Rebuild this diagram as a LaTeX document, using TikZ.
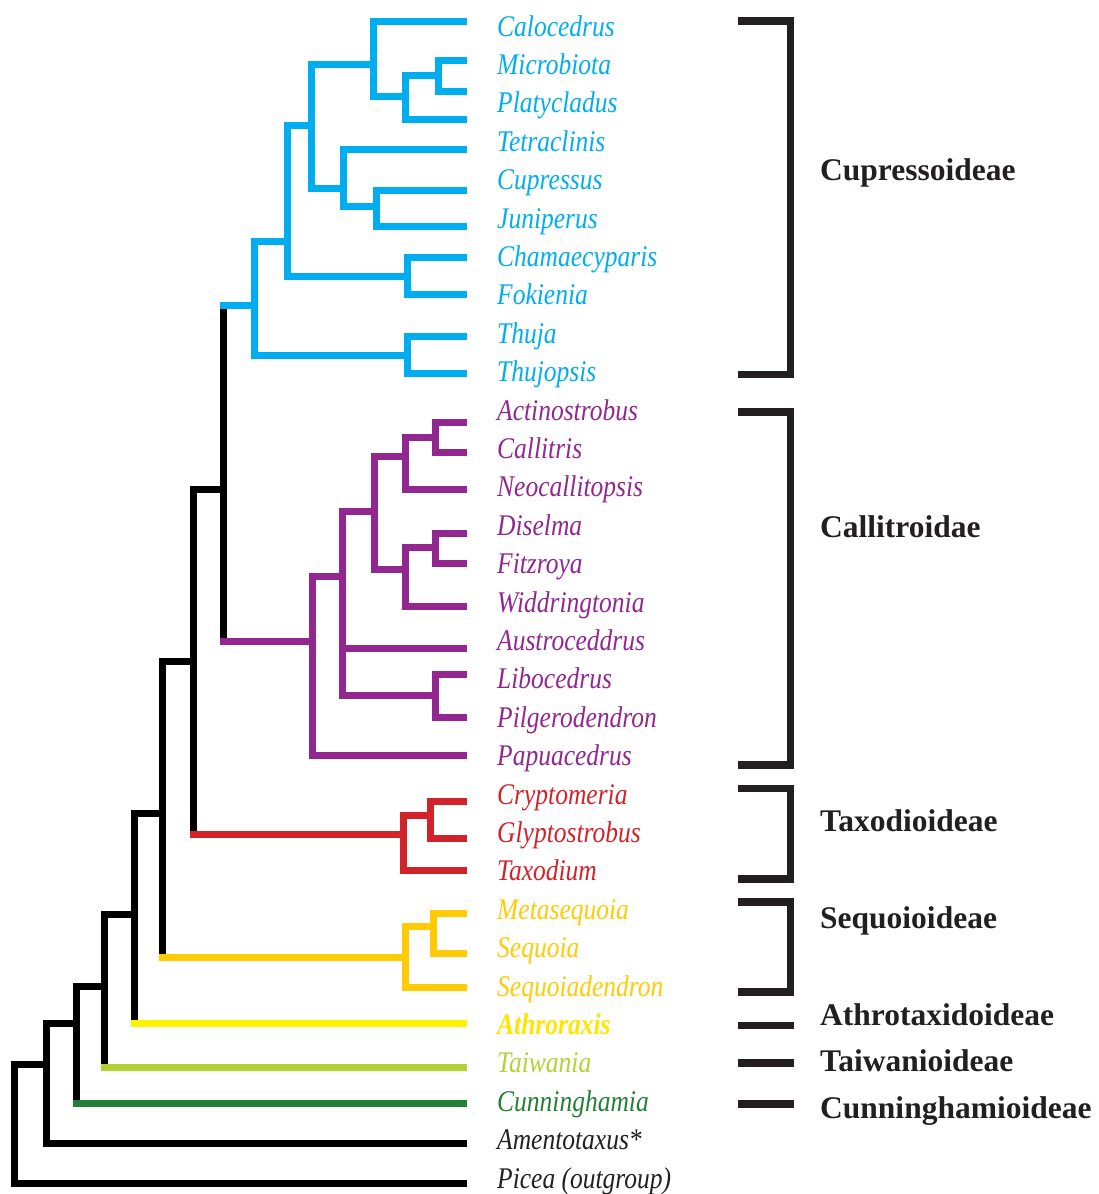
\documentclass[tikz,border=0pt]{standalone}
\usepackage{fontspec}
\setmainfont{Liberation Serif}
\usepackage{graphicx}
\usetikzlibrary{calc}
\definecolor{cblue}{HTML}{00AEEF}
\definecolor{cpurple}{HTML}{92278F}
\definecolor{cred}{HTML}{D2232A}
\definecolor{corange}{HTML}{FFCB05}
\definecolor{cyellow}{HTML}{FFF200}
\definecolor{cyellowtxt}{HTML}{FFE500}
\definecolor{clgreen}{HTML}{B2D235}
\definecolor{cdgreen}{HTML}{237F36}
\definecolor{cdark}{HTML}{231F20}
\newcommand\lf[1]{\scalebox{0.85}[1]{\itshape #1}}
\newcommand\spine[4]{\draw[branch,#1] (#2 |- #3) -- (#2 |- #4);}
\newcommand\stem[3]{\draw[branch,#1] ($(#2 |- #3)+(-3.5,0)$) -- (#3);}
\newcommand\bracketpath[3]{\draw[bracket] (738.3,#2) -- (790.3,#2) -- (790.3,#3) -- (738.3,#3);}
\begin{document}
\begin{tikzpicture}[x=1pt,y=-1pt,
  branch/.style={line width=7pt, line cap=butt, line join=miter},
  leaflabel/.style={anchor=base west, inner sep=0pt, font=\fontsize{30}{30}\selectfont},
  grouplabel/.style={anchor=base west, inner sep=0pt, font=\fontsize{31.5}{32}\selectfont\bfseries, text=cdark},
  bracket/.style={line width=7.5pt, draw=cdark, line cap=butt, line join=miter}]
\useasboundingbox (0,0) rectangle (1098,1194);

% ---- leaf end points
\coordinate (b1) at (466.7,21.2);
\coordinate (b2) at (466.7,60.3);
\coordinate (b3) at (466.7,91.2);
\coordinate (b4) at (466.7,119.2);
\coordinate (b5) at (466.7,149);
\coordinate (b6) at (466.7,190.8);
\coordinate (b7) at (466.7,226.8);
\coordinate (b8) at (466.7,257.5);
\coordinate (b9) at (466.7,294.3);
\coordinate (b10) at (466.7,336.8);
\coordinate (b11) at (466.7,373.3);
\coordinate (p1) at (466.7,422.2);
\coordinate (p2) at (466.7,452.5);
\coordinate (p3) at (466.7,489.7);
\coordinate (p4) at (466.7,533);
\coordinate (p5) at (466.7,563);
\coordinate (p6) at (466.7,606.2);
\coordinate (p7) at (466.7,648.7);
\coordinate (p8) at (466.7,674.5);
\coordinate (p9) at (466.7,717.8);
\coordinate (p10) at (466.7,755.5);
\coordinate (r1) at (466.7,801.8);
\coordinate (r2) at (466.7,838.5);
\coordinate (r3) at (466.7,870.3);
\coordinate (s1) at (466.7,913.7);
\coordinate (s2) at (466.7,953);
\coordinate (s3) at (466.7,987.2);
\coordinate (a1) at (466.7,1023);
\coordinate (t1) at (466.7,1067);
\coordinate (cu1) at (466.7,1103.7);
\coordinate (am) at (466.7,1143.8);
\coordinate (pi) at (466.7,1183);

% ---- internal nodes
\coordinate (C0) at (254,305);
\coordinate (C1) at (287.3,241.7);
\coordinate (C2) at (311,125);
\coordinate (C3) at (373.3,64.2);
\coordinate (C4) at (405,96.3);
\coordinate (C5) at (438.3,75.3);
\coordinate (C6) at (343,188.8);
\coordinate (C7) at (376.3,206.7);
\coordinate (C8) at (407,276.7);
\coordinate (C9) at (407,355.8);
\coordinate (P0) at (312.7,641.7);
\coordinate (P1) at (342.7,576);
\coordinate (P2) at (374,511.7);
\coordinate (P3) at (405,456.2);
\coordinate (P3a) at (435.8,437);
\coordinate (P4) at (405,569.7);
\coordinate (P4a) at (435.8,547.7);
\coordinate (P5) at (435.7,695.7);
\coordinate (T0) at (403,834);
\coordinate (T1) at (430.7,815);
\coordinate (S0) at (405.5,957.8);
\coordinate (S1) at (433.3,926.7);
\coordinate (N1) at (223,489.7);
\coordinate (N2) at (193,661);
\coordinate (N3) at (162.7,813.3);
\coordinate (N4) at (134,914.3);
\coordinate (N5) at (104.3,986.3);
\coordinate (N6) at (76.7,1023.7);
\coordinate (N7) at (46.3,1064.7);
\coordinate (N8) at (14,1064.7);

% ---- spines
\spine{black}{N1}{C0}{P0}
\spine{black}{N2}{N1}{T0}
\spine{black}{N3}{N2}{S0}
\spine{black}{N4}{N3}{a1}
\spine{black}{N5}{N4}{t1}
\spine{black}{N6}{N5}{cu1}
\spine{black}{N7}{N6}{am}
\spine{black}{N8}{N7}{pi}
\spine{cblue}{C0}{C1}{C9}
\spine{cblue}{C1}{C2}{C8}
\spine{cblue}{C2}{C3}{C6}
\spine{cblue}{C3}{b1}{C4}
\spine{cblue}{C4}{C5}{b4}
\spine{cblue}{C5}{b2}{b3}
\spine{cblue}{C6}{b5}{C7}
\spine{cblue}{C7}{b6}{b7}
\spine{cblue}{C8}{b8}{b9}
\spine{cblue}{C9}{b10}{b11}
\spine{cpurple}{P0}{P1}{p10}
\spine{cpurple}{P1}{P2}{P5}
\spine{cpurple}{P2}{P3}{P4}
\spine{cpurple}{P3}{P3a}{p3}
\spine{cpurple}{P3a}{p1}{p2}
\spine{cpurple}{P4}{P4a}{p6}
\spine{cpurple}{P4a}{p4}{p5}
\spine{cpurple}{P5}{p8}{p9}
\spine{cred}{T0}{T1}{r3}
\spine{cred}{T1}{r1}{r2}
\spine{corange}{S0}{S1}{s3}
\spine{corange}{S1}{s1}{s2}

% ---- stems
\stem{cblue}{N1}{C0}
\stem{cpurple}{N1}{P0}
\stem{black}{N2}{N1}
\stem{cred}{N2}{T0}
\stem{black}{N3}{N2}
\stem{corange}{N3}{S0}
\stem{black}{N4}{N3}
\stem{cyellow}{N4}{a1}
\stem{black}{N5}{N4}
\stem{clgreen}{N5}{t1}
\stem{black}{N6}{N5}
\stem{cdgreen}{N6}{cu1}
\stem{black}{N7}{N6}
\stem{black}{N7}{am}
\stem{black}{N8}{N7}
\stem{black}{N8}{pi}
\stem{cblue}{C0}{C1}
\stem{cblue}{C0}{C9}
\stem{cblue}{C1}{C2}
\stem{cblue}{C1}{C8}
\stem{cblue}{C2}{C3}
\stem{cblue}{C2}{C6}
\stem{cblue}{C3}{b1}
\stem{cblue}{C3}{C4}
\stem{cblue}{C4}{C5}
\stem{cblue}{C4}{b4}
\stem{cblue}{C5}{b2}
\stem{cblue}{C5}{b3}
\stem{cblue}{C6}{b5}
\stem{cblue}{C6}{C7}
\stem{cblue}{C7}{b6}
\stem{cblue}{C7}{b7}
\stem{cblue}{C8}{b8}
\stem{cblue}{C8}{b9}
\stem{cblue}{C9}{b10}
\stem{cblue}{C9}{b11}
\stem{cpurple}{P0}{P1}
\stem{cpurple}{P0}{p10}
\stem{cpurple}{P1}{P2}
\stem{cpurple}{P1}{p7}
\stem{cpurple}{P1}{P5}
\stem{cpurple}{P2}{P3}
\stem{cpurple}{P2}{P4}
\stem{cpurple}{P3}{P3a}
\stem{cpurple}{P3}{p3}
\stem{cpurple}{P3a}{p1}
\stem{cpurple}{P3a}{p2}
\stem{cpurple}{P4}{P4a}
\stem{cpurple}{P4}{p6}
\stem{cpurple}{P4a}{p4}
\stem{cpurple}{P4a}{p5}
\stem{cpurple}{P5}{p8}
\stem{cpurple}{P5}{p9}
\stem{cred}{T0}{T1}
\stem{cred}{T0}{r3}
\stem{cred}{T1}{r1}
\stem{cred}{T1}{r2}
\stem{corange}{S0}{S1}
\stem{corange}{S0}{s3}
\stem{corange}{S1}{s1}
\stem{corange}{S1}{s2}

% ---- leaf labels
\node[leaflabel,text=cblue] (lab0) at (497,36) {\lf{Calocedrus}};
\node[leaflabel,text=cblue] (lab1) at (497,74.4) {\lf{Microbiota}};
\node[leaflabel,text=cblue] (lab2) at (497,112.8) {\lf{Platycladus}};
\node[leaflabel,text=cblue] (lab3) at (497,151.2) {\lf{Tetraclinis}};
\node[leaflabel,text=cblue] (lab4) at (497,189.6) {\lf{Cupressus}};
\node[leaflabel,text=cblue] (lab5) at (497,228) {\lf{Juniperus}};
\node[leaflabel,text=cblue] (lab6) at (497,266.4) {\lf{Chamaecyparis}};
\node[leaflabel,text=cblue] (lab7) at (497,304.8) {\lf{Fokienia}};
\node[leaflabel,text=cblue] (lab8) at (497,343.2) {\lf{Thuja}};
\node[leaflabel,text=cblue] (lab9) at (497,381.6) {\lf{Thujopsis}};
\node[leaflabel,text=cpurple] (lab10) at (497,420) {\lf{Actinostrobus}};
\node[leaflabel,text=cpurple] (lab11) at (497,458.4) {\lf{Callitris}};
\node[leaflabel,text=cpurple] (lab12) at (497,496.8) {\lf{Neocallitopsis}};
\node[leaflabel,text=cpurple] (lab13) at (497,535.2) {\lf{Diselma}};
\node[leaflabel,text=cpurple] (lab14) at (497,573.6) {\lf{Fitzroya}};
\node[leaflabel,text=cpurple] (lab15) at (497,612) {\lf{Widdringtonia}};
\node[leaflabel,text=cpurple] (lab16) at (497,650.4) {\lf{Austroceddrus}};
\node[leaflabel,text=cpurple] (lab17) at (497,688.8) {\lf{Libocedrus}};
\node[leaflabel,text=cpurple] (lab18) at (497,727.2) {\lf{Pilgerodendron}};
\node[leaflabel,text=cpurple] (lab19) at (497,765.6) {\lf{Papuacedrus}};
\node[leaflabel,text=cred] (lab20) at (497,804) {\lf{Cryptomeria}};
\node[leaflabel,text=cred] (lab21) at (497,842.4) {\lf{Glyptostrobus}};
\node[leaflabel,text=cred] (lab22) at (497,880.8) {\lf{Taxodium}};
\node[leaflabel,text=corange] (lab23) at (497,919.2) {\lf{Metasequoia}};
\node[leaflabel,text=corange] (lab24) at (497,957.6) {\lf{Sequoia}};
\node[leaflabel,text=corange] (lab25) at (497,996) {\lf{Sequoiadendron}};
\node[leaflabel,text=cyellowtxt] (lab26) at (497,1034.4) {\lf{\bfseries Athroraxis}};
\node[leaflabel,text=clgreen] (lab27) at (497,1072.8) {\lf{Taiwania}};
\node[leaflabel,text=cdgreen] (lab28) at (497,1111.2) {\lf{Cunninghamia}};
\node[leaflabel,text=cdark] (lab29) at (497,1149.6) {\lf{Amentotaxus*}};
\node[leaflabel,text=cdark] (lab30) at (497,1188) {\lf{Picea (outgroup)}};

% ---- brackets
\bracketpath{}{21.2}{374.5}
\bracketpath{}{412}{765}
\bracketpath{}{788.7}{878.8}
\bracketpath{}{902}{992}
\draw[bracket] (738.3,1025.3) -- (794,1025.3);
\draw[bracket] (738.3,1063) -- (794,1063);
\draw[bracket] (738.3,1103.8) -- (794,1103.8);

% ---- group labels
\node[grouplabel] (g1) at (820,180) {Cupressoideae};
\node[grouplabel] (g2) at (820,537.7) {Callitroidae};
\node[grouplabel] (g3) at (820,831) {Taxodioideae};
\node[grouplabel] (g4) at (820,928.3) {Sequoioideae};
\node[grouplabel] (g5) at (820,1025.7) {Athrotaxidoideae};
\node[grouplabel] (g6) at (820,1071.7) {Taiwanioideae};
\node[grouplabel] (g7) at (820,1118.3) {Cunninghamioideae};
\end{tikzpicture}
\end{document}
